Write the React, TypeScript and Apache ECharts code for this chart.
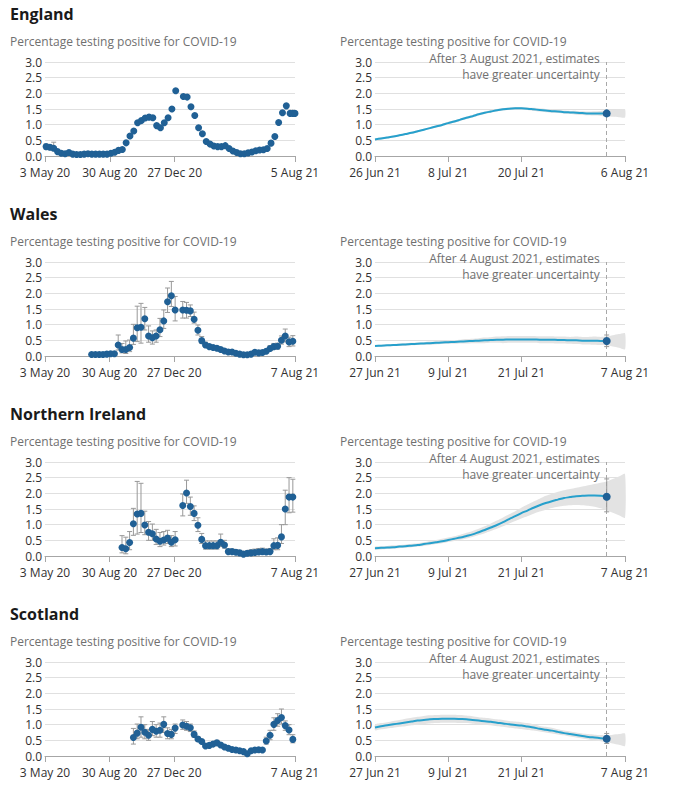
import React, { useEffect, useRef } from "react";
import * as echarts from "echarts";

// ---------- Left panels: weekly official estimates (percentage testing positive) ----------
const leftAxisStart = "2020-05-03";
const englandLeftTicks = ["2020-05-03", "2020-08-30", "2020-12-27", "2021-08-05"];
const otherLeftTicks = ["2020-05-03", "2020-08-30", "2020-12-27", "2021-08-07"];

const englandFirstWeek = "2020-05-05";
const englandWeekly = [0.30, 0.28, 0.25, 0.14, 0.09, 0.07, 0.11, 0.06, 0.05, 0.05, 0.06, 0.07, 0.06, 0.06, 0.06, 0.06, 0.06, 0.09, 0.12, 0.18, 0.21, 0.42, 0.64, 0.80, 1.06, 1.13, 1.21, 1.24, 1.22, 0.97, 0.90, 1.06, 1.22, 1.50, 2.08, null, 1.90, 1.88, 1.57, 1.29, 0.90, 0.71, 0.46, 0.38, 0.32, 0.30, 0.30, 0.33, 0.24, 0.16, 0.11, 0.07, 0.07, 0.10, 0.13, 0.17, 0.19, 0.20, 0.24, 0.41, 0.62, 1.07, 1.38, 1.60, 1.36];
const englandLow = [0.22, 0.20, 0.17, 0.10];
const englandHigh = [0.38, 0.36, 0.44, 0.19];
const englandLatestDates = ["2021-08-01", "2021-08-05"];
const englandLatestValues = [1.36, 1.36];

const walesFirstWeek = "2020-07-28";
const walesWeekly = [0.05, 0.05, 0.05, 0.05, 0.06, 0.07, 0.07, 0.35, 0.21, 0.21, 0.27, 0.57, 0.90, 0.92, 1.19, 0.64, 0.58, 0.64, 0.84, 1.12, 1.73, 1.92, 1.47, null, 1.47, 1.46, 1.44, 1.17, 0.82, 0.49, 0.35, 0.30, 0.27, 0.25, 0.21, 0.16, 0.13, 0.13, 0.09, 0.06, 0.04, 0.04, 0.06, 0.12, 0.10, 0.11, 0.15, 0.24, 0.30, 0.31, 0.50, 0.64, 0.45, 0.47];
const walesLow = [0.03, 0.03, 0.03, 0.03, 0.04, 0.05, 0.05, 0.19, 0.10, 0.08, 0.14, 0.37, 0.46, 0.41, 0.83, 0.44, 0.38, 0.44, 0.62, 0.88, 1.39, 1.58, 1.12, null, 1.21, 1.21, 1.26, 1.05, 0.67, 0.40, 0.28, 0.24, 0.21, 0.20, 0.16, 0.12, 0.10, 0.10, 0.06, 0.04, 0.02, 0.02, 0.04, 0.08, 0.07, 0.07, 0.10, 0.17, 0.22, 0.22, 0.38, 0.45, 0.30, 0.32];
const walesHigh = [0.07, 0.07, 0.07, 0.07, 0.08, 0.09, 0.09, 0.67, 0.40, 0.48, 0.51, 1.01, 1.59, 1.68, 1.55, 0.96, 0.80, 0.83, 1.20, 1.47, 2.17, 2.38, 1.90, null, 1.74, 1.71, 1.63, 1.40, 0.99, 0.62, 0.44, 0.37, 0.33, 0.31, 0.27, 0.21, 0.17, 0.17, 0.12, 0.09, 0.07, 0.07, 0.09, 0.17, 0.14, 0.15, 0.21, 0.33, 0.40, 0.41, 0.64, 0.86, 0.60, 0.65];

const niFirstWeek = "2020-09-22";
const niWeekly = [0.27, 0.23, 0.43, 1.03, 1.34, 1.36, 0.99, 0.76, 0.71, 0.54, 0.47, 0.51, 0.57, 0.44, 0.52, null, 1.61, 2.01, 1.58, 1.36, 0.98, 0.53, 0.33, 0.33, 0.33, 0.33, 0.44, 0.35, 0.14, 0.14, 0.12, 0.10, 0.06, 0.09, 0.10, 0.11, 0.13, 0.14, 0.13, 0.14, 0.33, 0.34, 0.61, 1.50, 1.88, 1.88];
const niLow = [0.10, 0.07, 0.20, 0.66, 0.70, 0.75, 0.68, 0.50, 0.50, 0.37, 0.30, 0.35, 0.40, 0.30, 0.32, null, 1.28, 1.68, 1.30, 1.13, 0.78, 0.40, 0.22, 0.22, 0.22, 0.22, 0.30, 0.25, 0.08, 0.08, 0.06, 0.05, 0.03, 0.04, 0.05, 0.06, 0.07, 0.08, 0.07, 0.08, 0.20, 0.20, 0.40, 1.00, 1.38, 1.40];
const niHigh = [0.65, 0.60, 0.78, 1.52, 2.38, 2.32, 1.43, 1.10, 1.02, 0.85, 0.75, 0.78, 0.82, 0.65, 0.78, null, 1.98, 2.42, 1.88, 1.60, 1.22, 0.72, 0.48, 0.48, 0.48, 0.48, 0.70, 0.50, 0.22, 0.22, 0.20, 0.18, 0.12, 0.16, 0.20, 0.22, 0.24, 0.25, 0.22, 0.24, 0.55, 0.58, 1.00, 2.10, 2.50, 2.45];

const scotFirstWeek = "2020-10-13";
const scotWeekly = [0.59, 0.73, 0.92, 0.76, 0.66, 0.85, 0.79, 0.82, 1.01, 0.72, 0.69, 0.89, null, 0.99, 0.95, 0.90, 0.69, 0.54, 0.46, 0.32, 0.34, 0.38, 0.42, 0.35, 0.29, 0.25, 0.21, 0.19, 0.17, 0.14, 0.07, 0.17, 0.19, 0.20, 0.19, 0.48, 0.66, 1.01, 1.13, 1.23, 0.97, 0.83, 0.53];
const scotLow = [0.38, 0.55, 0.60, 0.55, 0.50, 0.65, 0.60, 0.60, 0.75, 0.55, 0.55, 0.72, null, 0.85, 0.82, 0.78, 0.60, 0.47, 0.40, 0.27, 0.29, 0.32, 0.35, 0.30, 0.25, 0.21, 0.18, 0.16, 0.14, 0.11, 0.05, 0.13, 0.15, 0.16, 0.15, 0.38, 0.52, 0.82, 0.95, 1.02, 0.82, 0.68, 0.42];
const scotHigh = [0.88, 1.02, 1.25, 1.00, 0.85, 1.10, 1.00, 1.05, 1.25, 0.90, 0.85, 1.02, null, 1.15, 1.10, 1.02, 0.80, 0.62, 0.53, 0.38, 0.40, 0.44, 0.50, 0.41, 0.34, 0.29, 0.25, 0.23, 0.21, 0.17, 0.10, 0.21, 0.23, 0.24, 0.23, 0.60, 0.82, 1.22, 1.35, 1.50, 1.12, 1.00, 0.68];

// ---------- Right panels: daily modelled estimates ----------
const englandRightTicks = ["2021-06-26", "2021-07-08", "2021-07-20", "2021-08-06"];
const otherRightTicks = ["2021-06-27", "2021-07-09", "2021-07-21", "2021-08-07"];

const englandModel = [0.53, 0.56, 0.59, 0.62, 0.66, 0.70, 0.74, 0.79, 0.84, 0.89, 0.94, 0.99, 1.05, 1.10, 1.16, 1.22, 1.27, 1.33, 1.38, 1.42, 1.46, 1.49, 1.51, 1.52, 1.52, 1.51, 1.49, 1.47, 1.45, 1.43, 1.42, 1.40, 1.39, 1.38, 1.37, 1.36, 1.36, 1.36, 1.36];
const englandModelLow = [0.50, 0.53, 0.56, 0.59, 0.63, 0.67, 0.71, 0.76, 0.81, 0.86, 0.91, 0.95, 1.01, 1.06, 1.12, 1.18, 1.23, 1.29, 1.34, 1.38, 1.42, 1.45, 1.47, 1.48, 1.48, 1.47, 1.44, 1.42, 1.40, 1.38, 1.37, 1.35, 1.34, 1.32, 1.31, 1.30, 1.29, 1.28, 1.27, 1.25, 1.24, 1.23];
const englandModelHigh = [0.56, 0.59, 0.62, 0.65, 0.69, 0.73, 0.77, 0.82, 0.87, 0.92, 0.97, 1.03, 1.09, 1.14, 1.20, 1.26, 1.31, 1.37, 1.42, 1.46, 1.50, 1.53, 1.55, 1.56, 1.56, 1.55, 1.54, 1.52, 1.50, 1.48, 1.47, 1.45, 1.44, 1.44, 1.43, 1.42, 1.43, 1.44, 1.45, 1.47, 1.48, 1.49];

const walesModel = [0.32, 0.33, 0.34, 0.35, 0.36, 0.37, 0.38, 0.39, 0.40, 0.41, 0.42, 0.43, 0.44, 0.45, 0.46, 0.47, 0.48, 0.49, 0.50, 0.51, 0.52, 0.52, 0.53, 0.53, 0.53, 0.53, 0.53, 0.52, 0.52, 0.52, 0.51, 0.51, 0.50, 0.50, 0.49, 0.49, 0.49, 0.48, 0.48];
const walesModelLow = [0.29, 0.30, 0.31, 0.32, 0.32, 0.33, 0.34, 0.35, 0.36, 0.36, 0.37, 0.38, 0.39, 0.39, 0.40, 0.40, 0.41, 0.41, 0.41, 0.42, 0.42, 0.41, 0.42, 0.42, 0.42, 0.42, 0.42, 0.41, 0.41, 0.41, 0.40, 0.40, 0.39, 0.38, 0.37, 0.37, 0.36, 0.35, 0.34, 0.30, 0.26, 0.21];
const walesModelHigh = [0.35, 0.36, 0.37, 0.38, 0.40, 0.41, 0.42, 0.43, 0.44, 0.46, 0.47, 0.48, 0.49, 0.51, 0.52, 0.54, 0.55, 0.57, 0.59, 0.60, 0.62, 0.63, 0.64, 0.64, 0.64, 0.64, 0.64, 0.63, 0.63, 0.63, 0.62, 0.62, 0.61, 0.62, 0.61, 0.61, 0.62, 0.61, 0.62, 0.66, 0.70, 0.73];

const niModel = [0.25, 0.26, 0.27, 0.28, 0.30, 0.31, 0.33, 0.35, 0.38, 0.41, 0.44, 0.47, 0.51, 0.55, 0.59, 0.64, 0.69, 0.76, 0.83, 0.91, 0.99, 1.08, 1.18, 1.27, 1.37, 1.45, 1.54, 1.62, 1.69, 1.75, 1.80, 1.85, 1.88, 1.91, 1.92, 1.93, 1.93, 1.92, 1.90];
const niModelLow = [0.20, 0.21, 0.22, 0.23, 0.25, 0.26, 0.28, 0.30, 0.32, 0.35, 0.38, 0.41, 0.45, 0.48, 0.52, 0.56, 0.61, 0.67, 0.73, 0.80, 0.87, 0.95, 1.04, 1.12, 1.20, 1.27, 1.35, 1.42, 1.48, 1.53, 1.57, 1.60, 1.62, 1.63, 1.62, 1.60, 1.57, 1.52, 1.46, 1.38, 1.30, 1.22];
const niModelHigh = [0.30, 0.31, 0.32, 0.34, 0.35, 0.37, 0.39, 0.41, 0.44, 0.48, 0.51, 0.55, 0.59, 0.63, 0.68, 0.74, 0.80, 0.87, 0.95, 1.04, 1.13, 1.23, 1.33, 1.43, 1.54, 1.64, 1.74, 1.83, 1.92, 1.99, 2.05, 2.10, 2.14, 2.18, 2.22, 2.26, 2.30, 2.34, 2.38, 2.46, 2.54, 2.62];

const scotModel = [0.91, 0.95, 0.98, 1.01, 1.04, 1.07, 1.10, 1.13, 1.15, 1.17, 1.18, 1.19, 1.19, 1.19, 1.18, 1.17, 1.15, 1.13, 1.11, 1.09, 1.06, 1.04, 1.01, 0.99, 0.97, 0.94, 0.91, 0.87, 0.84, 0.81, 0.77, 0.73, 0.70, 0.67, 0.64, 0.61, 0.59, 0.57, 0.55];
const scotModelLow = [0.82, 0.85, 0.88, 0.90, 0.93, 0.95, 0.98, 1.00, 1.02, 1.04, 1.05, 1.06, 1.06, 1.06, 1.05, 1.05, 1.03, 1.02, 1.00, 0.98, 0.95, 0.93, 0.90, 0.88, 0.86, 0.83, 0.81, 0.78, 0.75, 0.72, 0.69, 0.66, 0.62, 0.59, 0.56, 0.53, 0.50, 0.47, 0.44, 0.40, 0.36, 0.32];
const scotModelHigh = [1.00, 1.05, 1.08, 1.12, 1.15, 1.19, 1.22, 1.25, 1.28, 1.30, 1.31, 1.32, 1.32, 1.32, 1.31, 1.29, 1.27, 1.24, 1.22, 1.20, 1.17, 1.15, 1.12, 1.10, 1.08, 1.05, 1.01, 0.96, 0.93, 0.90, 0.85, 0.81, 0.78, 0.75, 0.72, 0.70, 0.68, 0.67, 0.66, 0.68, 0.70, 0.72];

const estimateDates = ["2021-08-03", "2021-08-04", "2021-08-04", "2021-08-04"];
const estimateLabels = ["After 3 August 2021, estimates", "After 4 August 2021, estimates", "After 4 August 2021, estimates", "After 4 August 2021, estimates"];
const estimateValues = [1.36, 0.48, 1.89, 0.55];
const estimateLow = [1.30, 0.30, 1.41, 0.40];
const estimateHigh = [1.42, 0.67, 2.46, 0.72];

const countryNames = ["England", "Wales", "Northern Ireland", "Scotland"];
const subtitle = "Percentage testing positive for COVID-19";
const yTicks = [0, 0.5, 1, 1.5, 2, 2.5, 3];

// ---------- helpers ----------
const MONTHS = ["Jan", "Feb", "Mar", "Apr", "May", "Jun", "Jul", "Aug", "Sep", "Oct", "Nov", "Dec"];
const dayNum = (s: string) => Date.parse(s + "T00:00:00Z") / 86400000;
const fmtDate = (n: number) => {
  const d = new Date(Math.round(n) * 86400000);
  return `${d.getUTCDate()} ${MONTHS[d.getUTCMonth()]} ${String(d.getUTCFullYear()).slice(2)}`;
};

const FONT = '"Open Sans", sans-serif';
const DOT = "#206095";
const LINE = "#27a0cc";
const ERR = "#999999";
const BAND = "#e3e3e3";
const AXIS = "#a6a6a6";
const GRIDC = "#e0e0e0";
const LABEL = "#323132";
const SUB = "#707070";

const countries = [
  { firstWeek: englandFirstWeek, weekly: englandWeekly, low: englandLow, high: englandHigh, leftTicks: englandLeftTicks, rightTicks: englandRightTicks, model: englandModel, mLow: englandModelLow, mHigh: englandModelHigh },
  { firstWeek: walesFirstWeek, weekly: walesWeekly, low: walesLow, high: walesHigh, leftTicks: otherLeftTicks, rightTicks: otherRightTicks, model: walesModel, mLow: walesModelLow, mHigh: walesModelHigh },
  { firstWeek: niFirstWeek, weekly: niWeekly, low: niLow, high: niHigh, leftTicks: otherLeftTicks, rightTicks: otherRightTicks, model: niModel, mLow: niModelLow, mHigh: niModelHigh },
  { firstWeek: scotFirstWeek, weekly: scotWeekly, low: scotLow, high: scotHigh, leftTicks: otherLeftTicks, rightTicks: otherRightTicks, model: scotModel, mLow: scotModelLow, mHigh: scotModelHigh },
];

const errRender = (params: any, api: any) => {
  const x = api.value(0);
  const lo = api.value(1);
  const hi = api.value(2);
  const a = api.coord([x, hi]);
  const b = api.coord([x, lo]);
  const w = 2.5;
  const st = { stroke: ERR, lineWidth: 1 };
  return {
    type: "group",
    children: [
      { type: "line", shape: { x1: a[0], y1: a[1], x2: b[0], y2: b[1] }, style: st },
      { type: "line", shape: { x1: a[0] - w, y1: a[1], x2: a[0] + w, y2: a[1] }, style: st },
      { type: "line", shape: { x1: b[0] - w, y1: b[1], x2: b[0] + w, y2: b[1] }, style: st },
    ],
  };
};

export default function App() {
  const ref = useRef<HTMLDivElement>(null);
  useEffect(() => {
    const chart = echarts.init(ref.current!, null, { renderer: "svg" });
    const grids: any[] = [];
    const xAxes: any[] = [];
    const yAxes: any[] = [];
    const series: any[] = [];
    const leftOrigin = dayNum(leftAxisStart);

    const yAxisBase = (gi: number) => ({
      gridIndex: gi,
      type: "value",
      min: 0,
      max: 3,
      interval: 0.5,
      axisLine: { show: false },
      axisTick: { show: false },
      axisLabel: { formatter: (v: number) => v.toFixed(1), color: LABEL, fontSize: 12, fontFamily: FONT, margin: 3 },
      splitLine: { lineStyle: { color: GRIDC, width: 1 } },
    });

    const xAxisBase = (gi: number, origin: number, ticks: string[]) => {
      const vals = ticks.map((t) => dayNum(t) - origin);
      return {
        gridIndex: gi,
        type: "value",
        min: 0,
        max: vals[vals.length - 1],
        axisLine: { show: true, onZero: false, lineStyle: { color: AXIS } },
        axisTick: { show: true, customValues: vals, length: 6, lineStyle: { color: AXIS } },
        axisLabel: { customValues: vals, formatter: (v: number) => fmtDate(origin + v), color: LABEL, fontSize: 12, fontFamily: FONT, margin: 10 },
        splitLine: { show: false },
      };
    };

    countries.forEach((c, r) => {
      const top = 62 + 200 * r;
      const li = 2 * r;
      const ri = 2 * r + 1;
      grids.push({ left: 45, top, width: 250, height: 94 });
      grids.push({ left: 375, top, width: 250, height: 94 });
      xAxes.push(xAxisBase(li, leftOrigin, c.leftTicks));
      const rOrigin = dayNum(c.rightTicks[0]);
      xAxes.push(xAxisBase(ri, rOrigin, c.rightTicks));
      yAxes.push(yAxisBase(li));
      yAxes.push(yAxisBase(ri));

      // left: weekly points
      const w0 = dayNum(c.firstWeek) - leftOrigin;
      const pts: any[] = [];
      const errs: any[] = [];
      c.weekly.forEach((v, i) => {
        if (v == null) return;
        const d = w0 + 7 * i;
        pts.push([d, v]);
        if (c.low[i] != null && c.high[i] != null) errs.push([d, c.low[i], c.high[i]]);
      });
      if (r === 0) {
        englandLatestDates.forEach((s, i) => pts.push([dayNum(s) - leftOrigin, englandLatestValues[i]]));
      }
      series.push({ type: "custom", xAxisIndex: li, yAxisIndex: li, data: errs, renderItem: errRender, encode: { x: 0, y: [1, 2] }, silent: true, z: 2 });
      series.push({ type: "scatter", xAxisIndex: li, yAxisIndex: li, data: pts, symbolSize: 7, itemStyle: { color: DOT, opacity: 1 }, clip: false, silent: true, z: 3 });

      // right: modelled trend
      const band = c.mLow.map((lo, i) => [i, lo, c.mHigh[i]]);
      series.push({
        type: "custom",
        xAxisIndex: ri,
        yAxisIndex: ri,
        data: band,
        encode: { x: 0, y: [1, 2] },
        silent: true,
        z: 1,
        renderItem: (params: any, api: any) => {
          if (params.dataIndex !== 0) return null;
          const upper = band.map((b) => api.coord([b[0], b[2]]));
          const lower = band.map((b) => api.coord([b[0], b[1]])).reverse();
          return { type: "polygon", shape: { points: upper.concat(lower), smooth: 0.2 }, style: { fill: BAND } };
        },
      });
      const estDay = dayNum(estimateDates[r]) - rOrigin;
      series.push({
        type: "line",
        xAxisIndex: ri,
        yAxisIndex: ri,
        data: c.model.map((v, i) => [i, v]),
        smooth: 0.3,
        showSymbol: false,
        lineStyle: { color: LINE, width: 2 },
        itemStyle: { color: LINE },
        silent: true,
        z: 3,
        markLine: {
          silent: true,
          symbol: "none",
          label: { show: false },
          lineStyle: { type: [4, 3], color: "#a8a8a8", width: 1 },
          data: [{ xAxis: estDay }],
          z: 2,
        },
      });
      series.push({ type: "custom", xAxisIndex: ri, yAxisIndex: ri, data: [[estDay, estimateLow[r], estimateHigh[r]]], renderItem: errRender, encode: { x: 0, y: [1, 2] }, silent: true, z: 4 });
      series.push({ type: "scatter", xAxisIndex: ri, yAxisIndex: ri, data: [[estDay, estimateValues[r]]], symbolSize: 8, itemStyle: { color: DOT, opacity: 1 }, silent: true, z: 5 });
    });

    chart.setOption({
      animation: false,
      backgroundColor: "#ffffff",
      textStyle: { fontFamily: FONT },
      grid: grids,
      xAxis: xAxes,
      yAxis: yAxes,
      series,
    });

    const elements: any[] = [];
    countryNames.forEach((name, r) => {
      const off = 200 * r;
      elements.push({ type: "text", x: 10, y: 14 + off, style: { text: name, fontSize: 16, fontWeight: "bold", fontFamily: FONT, fill: "#1a1a1a", align: "left", verticalAlign: "middle" } });
      [10, 340].forEach((x) => {
        elements.push({ type: "text", x, y: 41 + off, style: { text: subtitle, fontSize: 12, fontFamily: FONT, fill: SUB, align: "left", verticalAlign: "middle" } });
      });
      const ri = 2 * r + 1;
      const rOrigin = dayNum(countries[r].rightTicks[0]);
      const estDay = dayNum(estimateDates[r]) - rOrigin;
      const px = chart.convertToPixel({ xAxisIndex: ri } as any, estDay) as number;
      const py = chart.convertToPixel({ yAxisIndex: ri } as any, yTicks[yTicks.length - 1]) as number;
      elements.push({
        type: "text",
        x: px - 7,
        y: py + 4,
        style: { text: estimateLabels[r] + "\nhave greater uncertainty", fontSize: 12, lineHeight: 16, fontFamily: FONT, fill: SUB, align: "right", verticalAlign: "middle" },
      });
    });
    chart.setOption({ graphic: { elements } });

    return () => chart.dispose();
  }, []);
  return <div ref={ref} style={{ position: "absolute", left: 0, top: 0, width: 685, height: 799, background: "#fff" }} />;
}
